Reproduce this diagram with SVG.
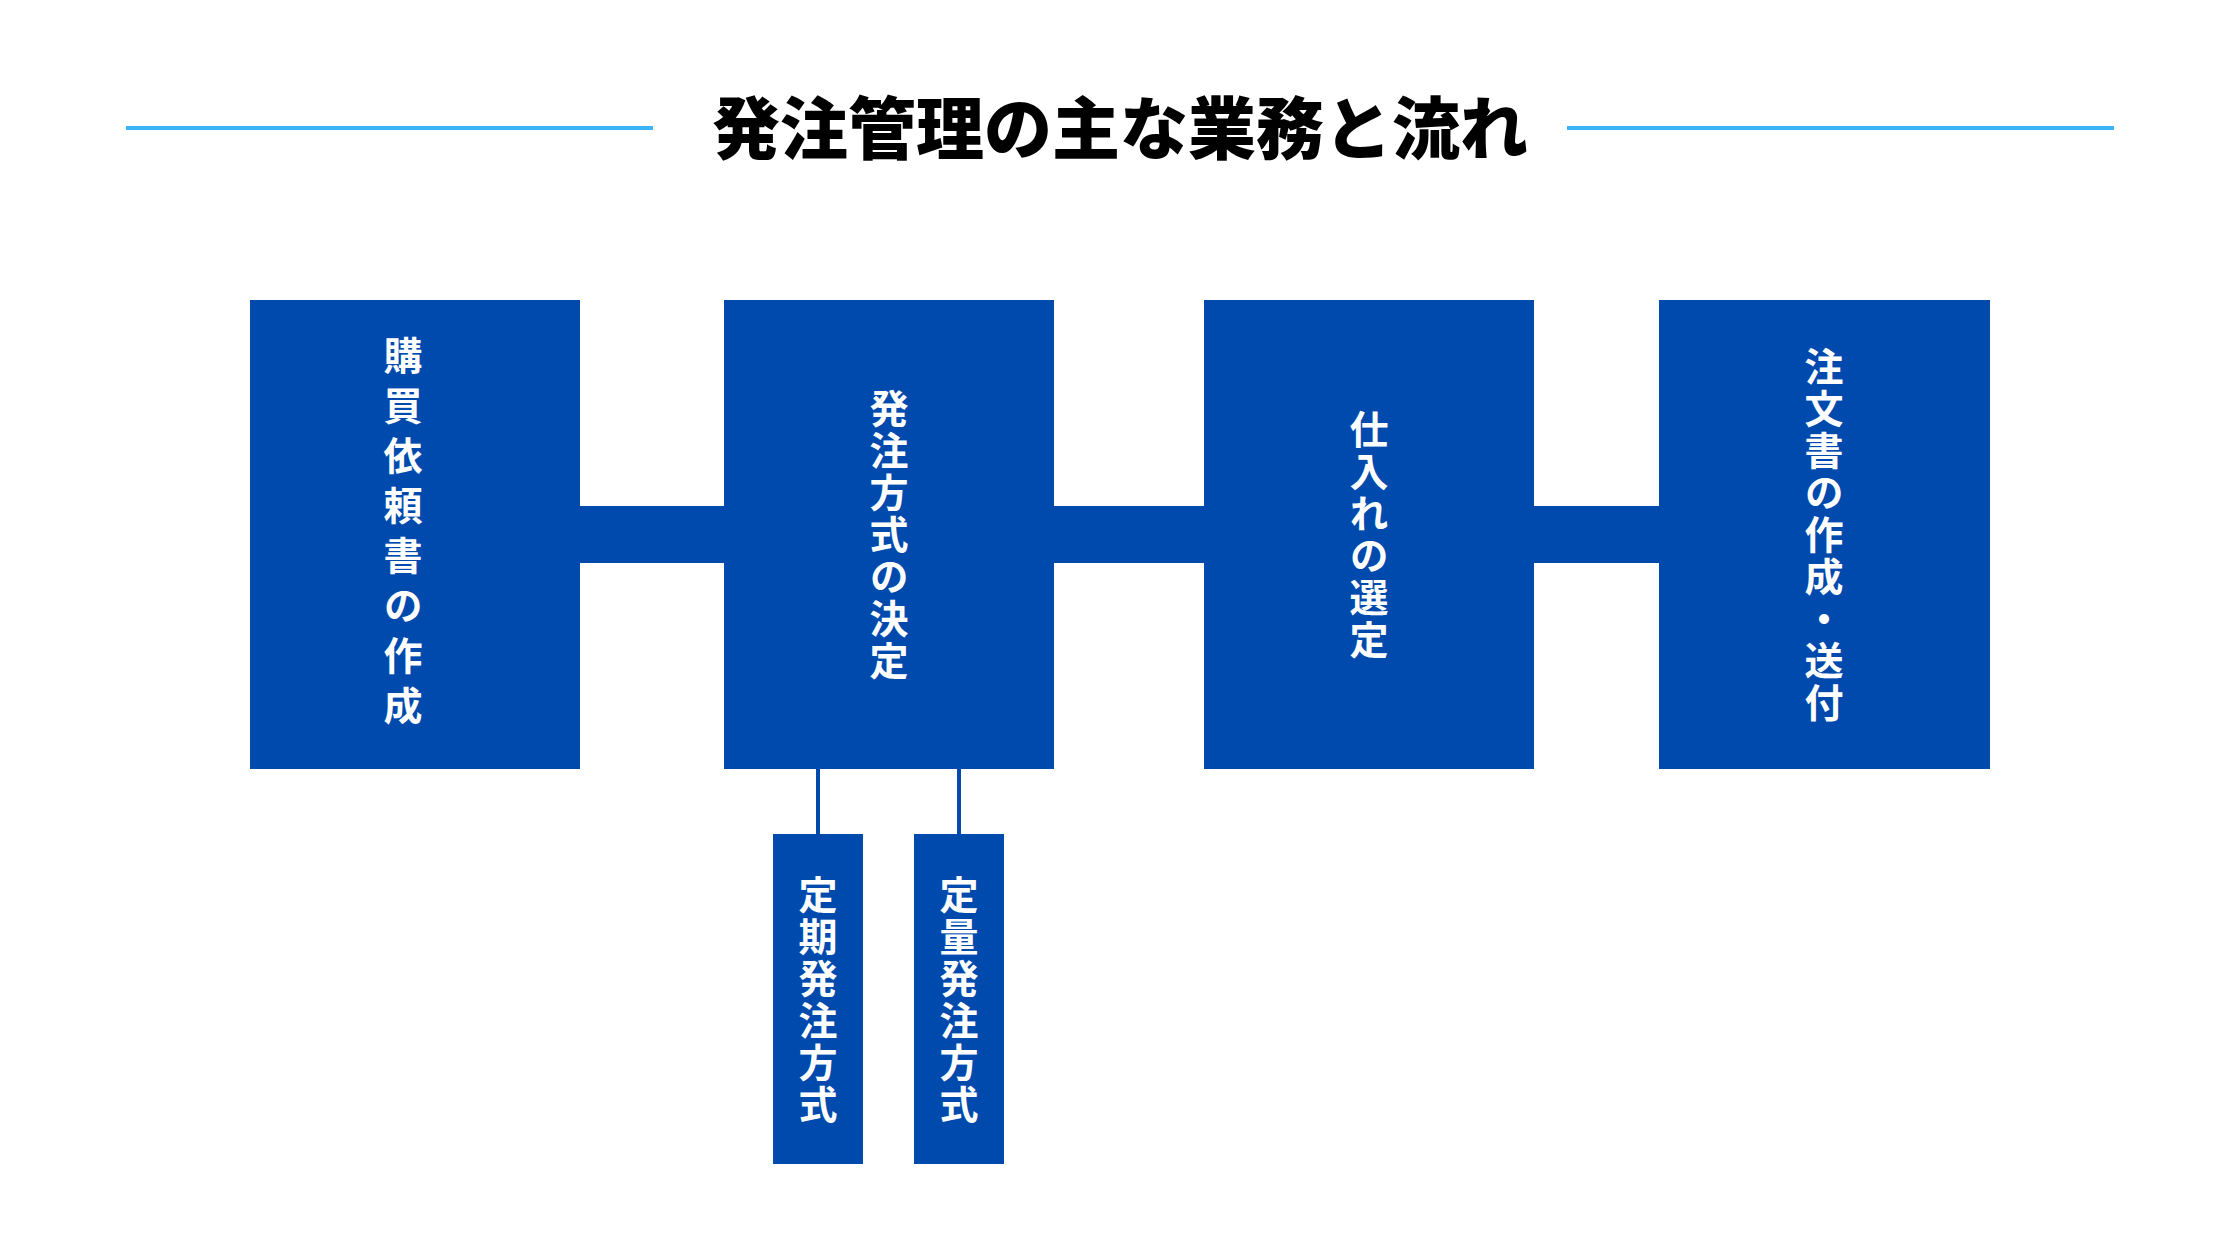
<svg xmlns="http://www.w3.org/2000/svg" width="2240" height="1260" viewBox="0 0 2240 1260">
<style>
.box{fill:#004aad}
.t{font-family:"Noto Sans CJK JP","Noto Sans",sans-serif;font-weight:700;fill:#fff;font-size:39px;writing-mode:vertical-rl;text-anchor:middle;letter-spacing:3px}
.title{font-family:"Noto Sans CJK JP","Noto Sans",sans-serif;font-weight:900;font-size:68px;fill:#000;text-anchor:middle}
</style>
<rect width="2240" height="1260" fill="#fff"/>
<g id="title">
<line x1="126" y1="128" x2="653" y2="128" stroke="#3bb3f5" stroke-width="4"/>
<line x1="1567" y1="128" x2="2114" y2="128" stroke="#3bb3f5" stroke-width="4"/>
<text class="title" x="1120" y="154">発注管理の主な業務と流れ</text>
</g>
<g id="connectors">
<rect class="box" x="570" y="506" width="164" height="57"/>
<rect class="box" x="1044" y="506" width="170" height="57"/>
<rect class="box" x="1524" y="506" width="145" height="57"/>
<line x1="818" y1="769" x2="818" y2="834" stroke="#004aad" stroke-width="4"/>
<line x1="959" y1="769" x2="959" y2="834" stroke="#004aad" stroke-width="4"/>
</g>
<g id="n1"><rect class="box" x="250" y="300" width="330" height="469"/><text class="t" x="403" y="536" style="letter-spacing:11px">購買依頼書の作成</text></g>
<g id="n2"><rect class="box" x="724" y="300" width="330" height="469"/><text class="t" x="889" y="536">発注方式の決定</text></g>
<g id="n3"><rect class="box" x="1204" y="300" width="330" height="469"/><text class="t" x="1369" y="536">仕入れの選定</text></g>
<g id="n4"><rect class="box" x="1659" y="300" width="331" height="469"/><text class="t" x="1824" y="536">注文書の作成・送付</text></g>
<g id="n5"><rect class="box" x="773" y="834" width="90" height="330"/><text class="t" x="818" y="1001">定期発注方式</text></g>
<g id="n6"><rect class="box" x="914" y="834" width="90" height="330"/><text class="t" x="959" y="1001">定量発注方式</text></g>
</svg>
